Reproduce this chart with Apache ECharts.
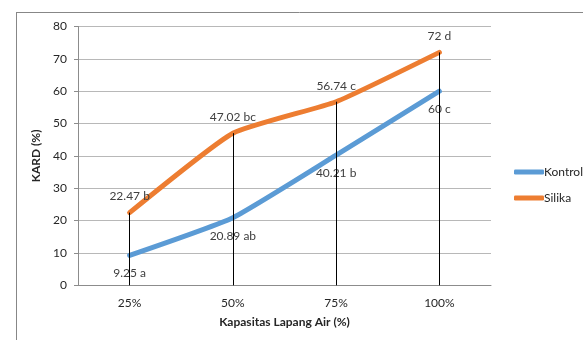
<!DOCTYPE html>
<html>
<head>
<meta charset="utf-8">
<script src="https://cdn.jsdelivr.net/npm/echarts@6/dist/echarts.min.js"></script>
<style>
  html, body { margin: 0; padding: 0; background: #fff; }
  #chart { width: 583px; height: 340px; }
</style>
</head>
<body>
<div id="chart"></div>
<script>
// Water field capacity levels (x axis)
const categories = ['25%', '50%', '75%', '100%'];
// KARD (%) per treatment
const kontrol = [9.25, 20.89, 40.21, 60];
const silika = [22.47, 47.02, 56.74, 72];
// Significance letters shown after each value
const kontrolLetters = ['a', 'ab', 'b', 'c'];
const silikaLetters = ['b', 'bc', 'c', 'd'];
// Y axis ticks
const yMin = 0, yMax = 80, yStep = 10;

const FONT = 'Lato';
const TEXT = '#262626';

const chart = echarts.init(document.getElementById('chart'), null, { renderer: 'canvas' });

// Vertical drop lines from the axis up to each Silika point
const dropLines = silika.map((v, i) => [
  { coord: [i, yMin] },
  { coord: [i, v] }
]);

chart.setOption({
  animation: false,
  textStyle: { fontFamily: FONT },
  graphic: [
    { type: 'line', shape: { x1: 16, y1: 12.5, x2: 583, y2: 12.5 }, style: { stroke: '#878787', lineWidth: 1 } },
    { type: 'line', shape: { x1: 16.5, y1: 12, x2: 16.5, y2: 340 }, style: { stroke: '#878787', lineWidth: 1 } }
  ],
  grid: { left: 78, right: 92, top: 26.5, bottom: 54.7 },
  legend: {
    orient: 'vertical',
    left: 509,
    top: 160,
    itemWidth: 30,
    itemHeight: 5,
    itemGap: 12,
    icon: 'roundRect',
    textStyle: { fontFamily: FONT, fontSize: 12, color: TEXT, lineHeight: 14, padding: [0, 0, 0, -5] },
    data: ['Kontrol', 'Silika']
  },
  xAxis: {
    type: 'category',
    data: categories,
    boundaryGap: true,
    name: 'Kapasitas Lapang Air (%)',
    nameLocation: 'middle',
    nameGap: 31,
    nameTextStyle: { fontFamily: FONT, fontSize: 12, fontWeight: 'bold', color: TEXT },
    axisLine: { lineStyle: { color: '#8c8c8c', width: 1 } },
    axisTick: { show: false },
    axisLabel: { fontFamily: FONT, fontSize: 12, color: TEXT, margin: 12 }
  },
  yAxis: {
    type: 'value',
    min: yMin,
    max: yMax,
    interval: yStep,
    name: 'KARD (%)',
    nameLocation: 'middle',
    nameGap: 29,
    nameTextStyle: { fontFamily: FONT, fontSize: 12, fontWeight: 'bold', color: TEXT },
    axisLine: { show: true, lineStyle: { color: '#8c8c8c', width: 1 } },
    axisTick: { show: true, length: 4, lineStyle: { color: '#8c8c8c' } },
    axisLabel: { fontFamily: FONT, fontSize: 12, color: TEXT, margin: 11 },
    splitLine: { lineStyle: { color: '#b8b8b8', width: 1 } }
  },
  series: [
    {
      name: 'Kontrol',
      type: 'line',
      data: kontrol,
      smooth: 0.15,
      symbol: 'circle',
      symbolSize: 0,
      showSymbol: true,
      color: '#5b9bd5',
      lineStyle: { width: 5, color: '#5b9bd5', cap: 'round', join: 'round' },
      label: {
        show: true,
        position: 'bottom',
        distance: 12,
        fontFamily: FONT,
        fontSize: 12,
        color: '#404040',
        formatter: p => p.value + ' ' + kontrolLetters[p.dataIndex]
      },
      z: 2
    },
    {
      name: 'Silika',
      type: 'line',
      data: silika,
      smooth: 0.15,
      symbol: 'circle',
      symbolSize: 0,
      showSymbol: true,
      color: '#ed7d31',
      lineStyle: { width: 5, color: '#ed7d31', cap: 'round', join: 'round' },
      label: {
        show: true,
        position: 'top',
        distance: 10,
        fontFamily: FONT,
        fontSize: 12,
        color: '#404040',
        formatter: p => p.value + ' ' + silikaLetters[p.dataIndex]
      },
      markLine: {
        silent: true,
        symbol: 'none',
        label: { show: false },
        lineStyle: { color: '#000', width: 1, type: 'solid' },
        data: dropLines,
        z: 5
      },
      z: 3
    }
  ]
});
</script>
</body>
</html>
